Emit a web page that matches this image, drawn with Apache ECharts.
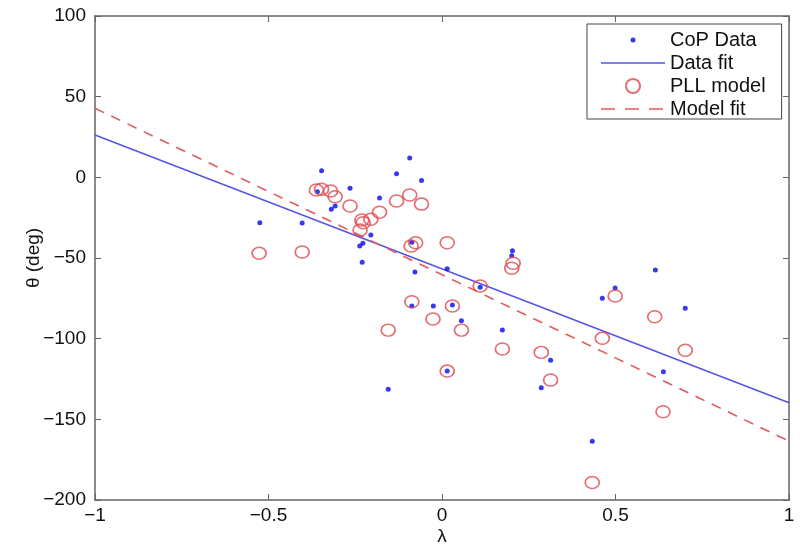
<!DOCTYPE html>
<html>
<head>
<meta charset="utf-8">
<script src="https://cdn.jsdelivr.net/npm/echarts@6/dist/echarts.min.js"></script>
<style>
  html, body { margin: 0; padding: 0; background: #fff; }
  #chart { width: 800px; height: 554px; }
</style>
</head>
<body>
<div id="chart"></div>
<script>
// CoP data (blue dots)
var copX = [-0.525, -0.403, -0.347, -0.359, -0.319, -0.308, -0.265, -0.237, -0.228, -0.230,
            -0.205, -0.180, -0.131, -0.093, -0.059, -0.087, -0.078, 0.015, -0.087, -0.025,
            0.030, 0.056, 0.015, -0.155, 0.203, 0.201, 0.110, 0.174, 0.313, 0.286,
            0.499, 0.462, 0.615, 0.701, 0.638, 0.433];
var copY = [-28.1, -28.3, 4.1, -8.9, -19.8, -17.8, -6.8, -42.6, -40.9, -52.7,
            -35.8, -12.8, 2.2, 12.0, -1.9, -40.3, -58.7, -56.7, -79.8, -79.8,
            -79.2, -88.9, -120.1, -131.4, -45.5, -48.6, -68.2, -94.6, -113.4, -130.4,
            -68.6, -75.0, -57.5, -81.2, -120.5, -163.6];

// PLL model (red circles)
var pllX = [-0.527, -0.403, -0.362, -0.347, -0.321, -0.308, -0.265, -0.231, -0.227, -0.236,
            -0.205, -0.180, -0.131, -0.093, -0.059, -0.076, -0.089, 0.015, -0.087, 0.030,
            -0.026, -0.155, 0.056, 0.015, 0.205, 0.201, 0.110, 0.174, 0.286, 0.313,
            0.499, 0.462, 0.613, 0.701, 0.637, 0.433];
var pllY = [-47.1, -46.3, -7.9, -7.4, -8.5, -12.0, -17.8, -26.5, -28.1, -32.7,
            -26.0, -21.7, -14.7, -11.0, -16.6, -40.5, -42.6, -40.5, -77.1, -79.8,
            -87.8, -94.7, -94.7, -120.1, -53.3, -56.4, -67.4, -106.4, -108.5, -125.6,
            -73.6, -99.8, -86.4, -107.2, -145.3, -189.1];

// fit lines (end points)
var dataFitX = [-1, 1];
var dataFitY = [26.3, -139.7];
var modelFitX = [-1, 1];
var modelFitY = [42.8, -163.5];

var xTicks = [-1, -0.5, 0, 0.5, 1];
var yTicks = [-200, -150, -100, -50, 0, 50, 100];

function pairs(xs, ys) {
  return xs.map(function (x, i) { return [x, ys[i]]; });
}
function minus(v) {
  return String(v).replace('-', '\u2212');
}

var FONT = 'Liberation Sans, Arial, sans-serif';
var axisCol = '#666';

// legend icons: the extra M points pad the bounding box so the marks keep their size
var dotIcon = 'path://M0,0M14,14M4.5,7a2.5,2.5 0 1,0 5,0a2.5,2.5 0 1,0 -5,0';
var solidIcon = 'path://M0,0M64,14M0,6.2h64v1.6h-64z';
var dashIcon = 'path://M0,0M64,14M0,6.2h14v1.6h-14zM24,6.2h14v1.6h-14zM48,6.2h14v1.6h-14z';

var myChart = echarts.init(document.getElementById('chart'));

var option = {
  animation: false,
  backgroundColor: '#fff',
  textStyle: { fontFamily: FONT },
  grid: { left: 95, right: 11, top: 16, bottom: 54 },
  legend: {
    orient: 'vertical',
    left: 587,
    top: 24,
    padding: [6, 16, 0, 14],
    itemWidth: 64,
    itemHeight: 14,
    itemGap: 3,
    borderColor: '#444',
    borderWidth: 1,
    backgroundColor: '#fff',
    textStyle: { fontFamily: FONT, fontSize: 20, color: '#111' },
    data: [
      { name: 'CoP Data', icon: dotIcon },
      { name: 'Data fit', icon: solidIcon },
      { name: 'PLL model', icon: 'circle' },
      { name: 'Model fit', icon: dashIcon }
    ]
  },
  xAxis: [{
    type: 'value',
    min: xTicks[0],
    max: xTicks[xTicks.length - 1],
    interval: 0.5,
    name: '\u03bb',
    nameLocation: 'middle',
    nameGap: 27,
    nameMoveOverlap: false,
    nameTextStyle: { fontFamily: FONT, fontSize: 19, color: '#111' },
    axisLine: { show: true, onZero: false, lineStyle: { color: axisCol, width: 1.5 } },
    axisTick: { show: true, inside: true, length: 6, lineStyle: { color: axisCol } },
    axisLabel: { formatter: minus, fontFamily: FONT, fontSize: 19, color: '#111', margin: 6 },
    splitLine: { show: false }
  }, {
    type: 'value',
    position: 'top',
    min: xTicks[0],
    max: xTicks[xTicks.length - 1],
    interval: 0.5,
    axisLine: { show: true, onZero: false, lineStyle: { color: axisCol, width: 1.5 } },
    axisTick: { show: true, inside: true, length: 6, lineStyle: { color: axisCol } },
    axisLabel: { show: false },
    splitLine: { show: false }
  }],
  yAxis: [{
    type: 'value',
    min: yTicks[0],
    max: yTicks[yTicks.length - 1],
    interval: 50,
    name: '\u03b8 (deg)',
    nameLocation: 'middle',
    nameGap: 52,
    nameMoveOverlap: false,
    nameTextStyle: { fontFamily: FONT, fontSize: 19, color: '#111' },
    axisLine: { show: true, onZero: false, lineStyle: { color: axisCol, width: 1.5 } },
    axisTick: { show: true, inside: true, length: 6, lineStyle: { color: axisCol } },
    axisLabel: { formatter: minus, fontFamily: FONT, fontSize: 19, color: '#111', margin: 9 },
    splitLine: { show: false }
  }, {
    type: 'value',
    position: 'right',
    min: yTicks[0],
    max: yTicks[yTicks.length - 1],
    interval: 50,
    axisLine: { show: true, onZero: false, lineStyle: { color: axisCol, width: 1.5 } },
    axisTick: { show: true, inside: true, length: 6, lineStyle: { color: axisCol } },
    axisLabel: { show: false },
    splitLine: { show: false }
  }],
  series: [{
    name: 'CoP Data',
    type: 'scatter',
    symbol: 'circle',
    symbolSize: 5,
    itemStyle: { color: '#0606ee' },
    data: pairs(copX, copY),
    z: 3
  }, {
    name: 'Data fit',
    type: 'line',
    symbol: 'none',
    lineStyle: { color: '#5656e6', width: 1.6 },
    itemStyle: { color: '#5656e6' },
    data: pairs(dataFitX, dataFitY),
    z: 2
  }, {
    name: 'PLL model',
    type: 'scatter',
    symbol: 'circle',
    symbolSize: [14, 12],
    itemStyle: { color: 'rgba(255,255,255,0)', borderColor: '#e0494e', borderWidth: 1.6 },
    data: pairs(pllX, pllY),
    z: 4
  }, {
    name: 'Model fit',
    type: 'line',
    symbol: 'none',
    lineStyle: { color: '#e25a5e', width: 1.6, type: [10, 8] },
    itemStyle: { color: '#e25a5e' },
    data: pairs(modelFitX, modelFitY),
    z: 2
  }]
};

myChart.setOption(option);
</script>
</body>
</html>
